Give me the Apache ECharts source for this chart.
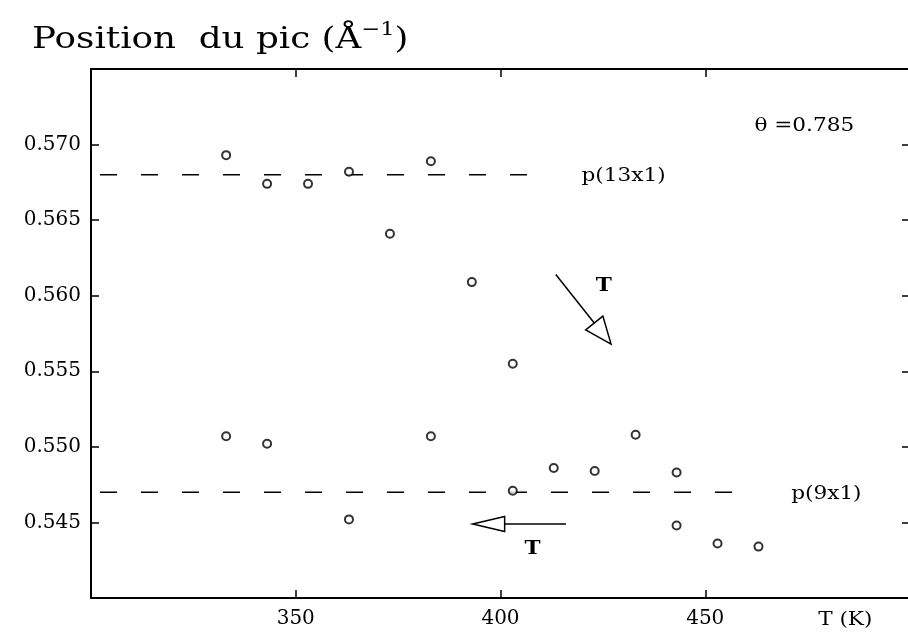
<!DOCTYPE html>
<html>
<head>
<meta charset="utf-8">
<script src="https://cdn.jsdelivr.net/npm/echarts@6/dist/echarts.min.js"></script>
<style>html,body{margin:0;padding:0;background:#fff;}#c{width:908px;height:632px;}</style>
</head>
<body>
<div id="c"></div>
<script>
// ---- data ----
const upperT = [333, 343, 353, 363, 373, 383, 393, 403];
const upperV = [0.5693, 0.5674, 0.5674, 0.5682, 0.5641, 0.5689, 0.5609, 0.5555];
const lowerT = [333, 343, 363, 383, 403, 413, 423, 433, 443, 443, 453, 463];
const lowerV = [0.5507, 0.5502, 0.5452, 0.5507, 0.5471, 0.5486, 0.5484, 0.5508, 0.5483, 0.5448, 0.5436, 0.5434];
const p13Line = { label: 'p(13x1)', value: 0.568, from: 300, to: 410.5 };
const p9Line = { label: 'p(9x1)', value: 0.547, from: 300, to: 460 };
const xTicks = [350, 400, 450];
const yTicks = [0.545, 0.550, 0.555, 0.560, 0.565, 0.570];
const xRange = [300, 500];
const yRange = [0.540, 0.575];
const thetaText = 'θ =0.785';
const titleText = 'Position  du pic (Å{sup|−1})';

const FONT = 'DejaVu Serif';
const INK = '#000';
const SX = 1.2; // horizontal stretch of the annotation text

const chart = echarts.init(document.getElementById('c'), null, { renderer: 'canvas' });

const zip = (a, b) => a.map((v, i) => [v, b[i]]);

const baseX = {
  type: 'value', min: xRange[0], max: xRange[1], interval: 50,
  axisLine: { show: true, onZero: false, lineStyle: { color: INK, width: 2 } },
  axisTick: { show: true, inside: true, length: 8, lineStyle: { color: INK, width: 1.5 } },
  splitLine: { show: false }
};
const baseY = {
  type: 'value', min: yRange[0], max: yRange[1], interval: 0.005,
  axisLine: { show: true, onZero: false, lineStyle: { color: INK, width: 2 } },
  axisTick: { show: true, inside: true, length: 8, lineStyle: { color: INK, width: 1.5 } },
  splitLine: { show: false }
};

const option = {
  backgroundColor: '#fff',
  animation: false,
  grid: { left: 91, top: 69, width: 819, height: 529, containLabel: false, outerBoundsMode: 'none' },
  xAxis: [
    Object.assign({}, baseX, {
      position: 'bottom',
      axisLabel: {
        show: true, margin: 11, fontFamily: FONT, fontSize: 20, color: INK,
        formatter: v => (xTicks.indexOf(v) >= 0 ? String(v) : '')
      }
    }),
    Object.assign({}, baseX, { position: 'top', axisLabel: { show: false } })
  ],
  yAxis: [
    Object.assign({}, baseY, {
      position: 'left',
      axisLabel: {
        show: true, margin: 10, fontFamily: FONT, fontSize: 20, color: INK,
        formatter: v => (yTicks.some(t => Math.abs(t - v) < 1e-9) ? v.toFixed(3) : '')
      }
    }),
    Object.assign({}, baseY, {
      position: 'right', axisLabel: { show: false },
      axisLine: { show: true, onZero: false, lineStyle: { color: '#ccc', width: 1 } }
    })
  ],
  series: [
    {
      type: 'line', name: p13Line.label, xAxisIndex: 0, yAxisIndex: 0,
      data: [[p13Line.from, p13Line.value], [p13Line.to, p13Line.value]],
      symbol: 'none', silent: true,
      lineStyle: { color: INK, width: 1.6, type: [17, 24], dashOffset: 32 }
    },
    {
      type: 'line', name: p9Line.label, xAxisIndex: 0, yAxisIndex: 0,
      data: [[p9Line.from, p9Line.value], [p9Line.to, p9Line.value]],
      symbol: 'none', silent: true,
      lineStyle: { color: INK, width: 1.6, type: [17, 24], dashOffset: 32 }
    },
    {
      type: 'scatter', name: 'haut', xAxisIndex: 0, yAxisIndex: 0,
      data: zip(upperT, upperV), symbol: 'circle', symbolSize: 8,
      itemStyle: { color: '#fff', borderColor: INK, borderWidth: 2 }, z: 5
    },
    {
      type: 'scatter', name: 'bas', xAxisIndex: 0, yAxisIndex: 0,
      data: zip(lowerT, lowerV), symbol: 'circle', symbolSize: 8,
      itemStyle: { color: '#fff', borderColor: INK, borderWidth: 2 }, z: 5
    }
  ]
};
chart.setOption(option);

// ---- annotations placed through the axes' scales ----
const px = (x, y) => chart.convertToPixel({ xAxisIndex: 0, yAxisIndex: 0 }, [x, y]);

function arrow(from, to, headLen, headHalf) {
  const a = px(from[0], from[1]);
  const b = px(to[0], to[1]);
  const dx = b[0] - a[0], dy = b[1] - a[1];
  const L = Math.hypot(dx, dy);
  const ux = dx / L, uy = dy / L;
  const bx = b[0] - ux * headLen, by = b[1] - uy * headLen;
  const nx = -uy, ny = ux;
  return [
    { type: 'line', shape: { x1: a[0], y1: a[1], x2: bx, y2: by }, style: { stroke: INK, lineWidth: 1.5 }, z: 10 },
    { type: 'polygon', shape: { points: [[b[0], b[1]], [bx + nx * headHalf, by + ny * headHalf], [bx - nx * headHalf, by - ny * headHalf]] },
      style: { fill: '#fff', stroke: INK, lineWidth: 1.5 }, z: 10 }
  ];
}
function label(text, x, y, align, dx, dy, bold, size) {
  const p = px(x, y);
  return { type: 'text', x: p[0] + (dx || 0), y: p[1] + (dy || 0), scaleX: SX, z: 10,
    style: { text: text, fontFamily: FONT, fontSize: size || 18, fontWeight: bold ? 'bold' : 'normal', fill: INK, align: align, verticalAlign: 'middle' } };
}

const graphics = []
  .concat(arrow([413.5, 0.5614], [427, 0.5568], 27, 11))
  .concat(arrow([416, 0.5449], [393.2, 0.5449], 32, 7.5))
  .concat([
    label(thetaText, 462, 0.5712, 'left'),
    label(p13Line.label, p13Line.to, p13Line.value, 'left', 38, 2),
    label(p9Line.label, p9Line.to, p9Line.value, 'left', 45, 2),
    label('T', 425.2, 0.5606, 'center', 0, 0, true),
    label('T', 407.8, 0.5432, 'center', 0, 0, true),
    label('T (K)', 484.2, 0.540, 'center', 0, 22),
    {
      type: 'text', x: 32, y: 21, scaleX: 1.19, z: 10,
      style: {
        text: titleText, fontFamily: FONT, fontSize: 30, fill: INK, lineHeight: 38,
        align: 'left', verticalAlign: 'top',
        rich: { sup: { fontFamily: FONT, fontSize: 19, fill: INK, lineHeight: 22, verticalAlign: 'top' } }
      }
    }
  ]);
chart.setOption({ graphic: graphics });
</script>
</body>
</html>
